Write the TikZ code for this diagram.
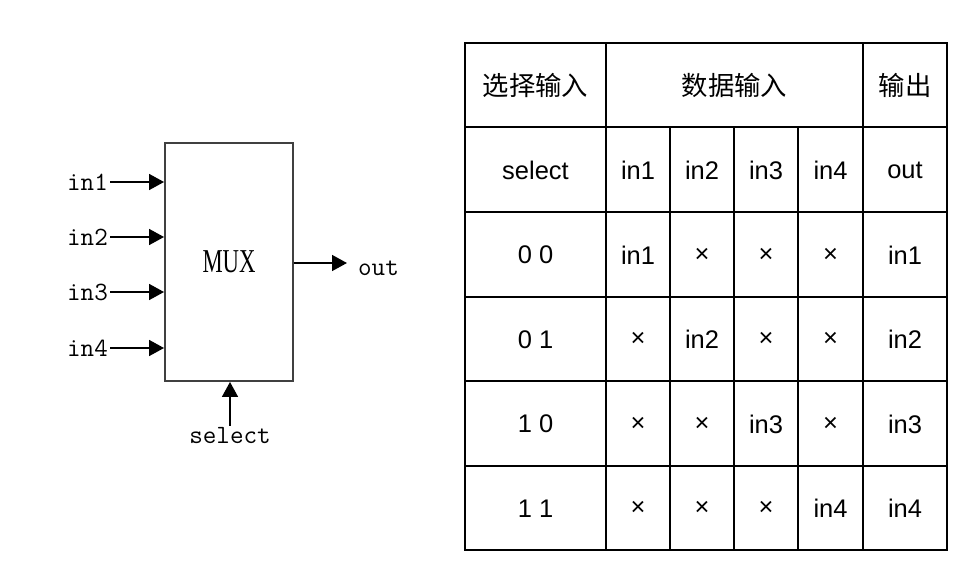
\documentclass[tikz,border=0pt]{standalone}
\usepackage{fontspec}
\usepackage{graphicx}
\setmainfont{Liberation Sans}
\newfontfamily\cjk{Noto Sans CJK SC}
\newfontfamily\muxfont{Liberation Serif}
\usetikzlibrary{arrows.meta, positioning}

\tikzset{
  sig/.style={line width=1.1pt, -{Triangle[length=8.5pt, width=9pt]}},
  lbl/.style={font=\ttfamily\fontsize{15}{17}\selectfont, inner sep=1pt},
  cell/.style={font=\fontsize{14.5}{17}\selectfont, inner sep=0pt},
  head/.style={font=\cjk\fontsize{15}{18}\selectfont, inner sep=0pt},
  grid/.style={line width=1.15pt, line cap=rect}
}

\begin{document}
\begin{tikzpicture}[x=0.02cm, y=-0.02cm]
  \useasboundingbox (0,0) rectangle (974,575);

  % multiplexer block
  \node[draw=black!75, line width=1.1pt, minimum width=2.56cm, minimum height=4.76cm, inner sep=0pt]
    (mux) at (229,262) {\muxfont\fontsize{19}{22}\selectfont\scalebox{0.68}[1]{MUX}};

  \foreach \k/\y in {1/182, 2/237, 3/292, 4/348} {
    \node[lbl, anchor=east] (in\k) at (110,\y) {in\k};
    \draw[sig] (in\k.east) -- (in\k.east -| mux.west);
  }

  \coordinate (outend) at (347,263);
  \draw[sig] (mux.east |- outend) -- (outend);
  \node[lbl, anchor=west] (out) at (356,268) {out};

  \node[lbl, anchor=center] (sel) at (230,436) {select};
  \draw[sig] (sel.north) -- (sel.north |- mux.south);

  % truth table
  \draw[grid] (465,43) rectangle (947,550);
  \foreach \y in {127,212,297,381,466} \draw[grid] (465,\y) -- (947,\y);
  \foreach \x in {606,863} \draw[grid] (\x,43) -- (\x,550);
  \foreach \x in {670,734,798} \draw[grid] (\x,127) -- (\x,550);

  \node[head] (hsel) at (535.5,85) {选择输入};
  \node[head] (hdat) at (734.5,85) {数据输入};
  \node[head] (hout) at (905,85) {输出};

  \node[cell] (tsel) at (535.5,170) {select};
  \node[cell] (tin1) at (638,170) {in1};
  \node[cell] (tin2) at (702,170) {in2};
  \node[cell] (tin3) at (766,170) {in3};
  \node[cell] (tin4) at (830.5,170) {in4};
  \node[cell] (tout) at (905,170) {out};

  \foreach \r/\y/\s/\a/\b/\c/\d/\o in {
      1/255/0 0/in1/×/×/×/in1,
      2/339.5/0 1/×/in2/×/×/in2,
      3/424/1 0/×/×/in3/×/in3,
      4/508.5/1 1/×/×/×/in4/in4} {
    \node[cell] (s\r) at (535.5,\y) {\s};
    \node[cell] (a\r) at (638,\y) {\a};
    \node[cell] (b\r) at (702,\y) {\b};
    \node[cell] (c\r) at (766,\y) {\c};
    \node[cell] (d\r) at (830.5,\y) {\d};
    \node[cell] (o\r) at (905,\y) {\o};
  }
\end{tikzpicture}
\end{document}
